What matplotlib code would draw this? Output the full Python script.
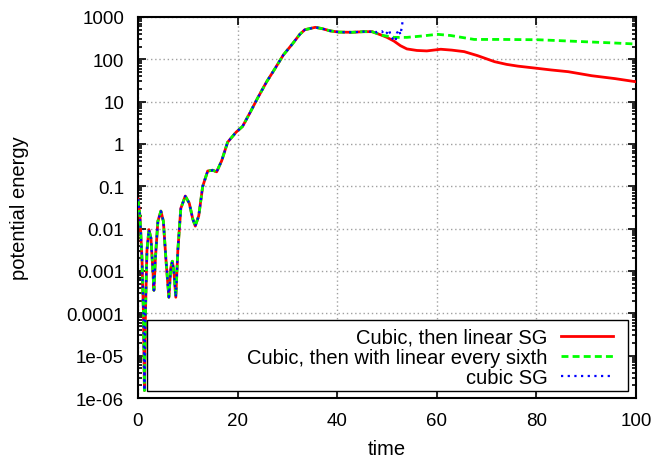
import numpy as np
import matplotlib
matplotlib.use('Agg')
import matplotlib.pyplot as plt
from matplotlib.patches import Rectangle
from matplotlib.ticker import LogLocator, NullFormatter, FixedLocator

plt.rcParams['font.family'] = ['Liberation Sans', 'DejaVu Sans']

# shared part of the run (all three curves lie on top of each other)
t_common = [0, 0.4, 0.8, 1.1, 1.3, 1.5, 1.8, 2.2, 2.6, 3.0, 3.2, 3.5, 4.0, 4.6,
            5.1, 5.6, 6.2, 6.6, 6.9, 7.2, 7.6, 8.0, 8.6, 9.5, 10.3, 11.0, 11.5,
            12.2, 13.0, 14.0, 15.0, 15.8, 16.8, 18.0, 19.7, 21.0, 22.5, 24.0,
            25.8, 27.5, 29.2, 31.0, 32.5, 33.5, 35.6, 37.0, 38.6, 40.3, 43.0,
            45.3, 47.0]
e_common = [0.05, 0.02, 2e-3, 1e-4, 1.5e-6, 1e-4, 3e-3, 0.0095, 0.006, 1e-3,
            3.5e-4, 2e-3, 0.015, 0.026, 0.015, 2e-3, 2.4e-4, 1.2e-3, 1.7e-3,
            1e-3, 2.4e-4, 3e-3, 0.03, 0.059, 0.04, 0.017, 0.0115, 0.02, 0.1,
            0.23, 0.24, 0.22, 0.4, 1.1, 1.9, 2.6, 5.5, 12, 29, 60, 127, 230,
            390, 500, 570, 530, 470, 440, 435, 450, 450]

t_red = [47.0, 48.7, 50.0, 51.4, 52.7, 54.0, 56.0, 58.0, 60.8, 63.0, 65.5, 68.2,
         71.6, 74.0, 76.3, 80.3, 83.0, 86.4, 91.1, 95.8, 100.0]
e_red = [450, 380, 330, 270, 210, 176, 162, 158, 173, 165, 152, 122, 88, 76, 69,
         61, 56, 51, 41, 35, 29.5]

t_green = [47.0, 49.0, 51.4, 54.0, 57.0, 60.1, 62.8, 65.0, 67.5, 73.0, 80.3,
           85.0, 89.8, 95.0, 100.0]
e_green = [440, 370, 330, 330, 355, 390, 365, 330, 295, 295, 290, 275, 260,
           245, 230]

t_blue = [47.0, 47.4, 48.0, 49.0, 49.5, 50.0, 50.4, 50.8, 51.2, 51.7, 52.0,
          52.4, 52.7, 53.0, 53.2]
e_blue = [450, 472, 430, 460, 380, 420, 500, 350, 300, 265, 415, 500, 380,
          600, 900]

labels = ['Cubic, then linear SG', 'Cubic, then with linear every sixth',
          'cubic SG']

fig = plt.figure(figsize=(6.57, 4.60), dpi=100)
ax = fig.add_axes([0.210, 0.1326, 0.758, 0.8283])

red_t = t_common + t_red[1:]
red_e = e_common + e_red[1:]
green_t = t_common + t_green[1:]
green_e = e_common + e_green[1:]
blue_t = t_common + t_blue[1:]
blue_e = e_common + e_blue[1:]

l1, = ax.plot(red_t, red_e, color='#ff0000', lw=2.0, zorder=3)
l2, = ax.plot(green_t, green_e, color='#00ff00', lw=2.0, ls=(0, (2.5, 1.5)), zorder=3)
l3, = ax.plot(blue_t, blue_e, color='#0000ff', lw=1.6, ls=(0, (1, 2)), zorder=3)

ax.set_yscale('log')
ax.set_xlim(0, 100)
ax.set_ylim(1e-6, 1000)
ax.xaxis.set_major_locator(FixedLocator([0, 20, 40, 60, 80, 100]))
yt = [1e-6, 1e-5, 1e-4, 1e-3, 0.01, 0.1, 1, 10, 100, 1000]
ax.yaxis.set_major_locator(FixedLocator(yt))
ax.set_yticklabels(['1e-06', '1e-05', '0.0001', '0.001', '0.01', '0.1', '1',
                    '10', '100', '1000'])
ax.yaxis.set_minor_locator(LogLocator(base=10, subs=np.arange(2, 10), numticks=20))
ax.yaxis.set_minor_formatter(NullFormatter())

ax.tick_params(which='both', direction='in', top=True, right=True,
               labelsize=13.5, pad=10, width=1.2)
ax.tick_params(which='major', length=6)
ax.tick_params(which='minor', length=3)
for s in ax.spines.values():
    s.set_linewidth(1.5)

ax.grid(True, which='major', color='#a0a0a0', ls=(0, (1, 2)), lw=1.0, zorder=1)
ax.set_axisbelow(True)

ax.set_xlabel('time', fontsize=14.5)
ax.set_ylabel('potential energy', fontsize=14.5)
ax.xaxis.set_label_coords(0.5, -0.108)
ax.yaxis.set_label_coords(-0.219, 0.5)

box = Rectangle((0.018, 0.018), 0.966, 0.187, transform=ax.transAxes,
                facecolor='white', edgecolor='black', lw=1.0, zorder=4)
ax.add_patch(box)
leg = ax.legend([l1, l2, l3], labels, loc='lower right',
                bbox_to_anchor=(0.982, -0.008), markerfirst=False, frameon=False,
                fontsize=14.5, handlelength=2.6, handletextpad=0.65,
                labelspacing=0.05, borderpad=0.2)
leg.set_zorder(5)

fig.savefig('out.png', dpi=100)
